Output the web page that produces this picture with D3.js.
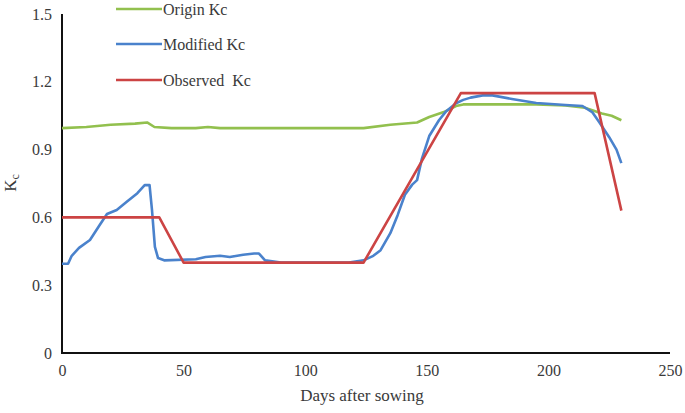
<!DOCTYPE html>
<html>
<head>
<meta charset="utf-8">
<script src="https://cdn.jsdelivr.net/npm/d3@7/dist/d3.min.js"></script>
<style>
  body { margin: 0; background: #fff; }
</style>
</head>
<body>
<svg id="chart" width="685" height="413"></svg>
<script>
// x ticks / y ticks
const xTicks = [0, 50, 100, 150, 200, 250];
const yTicks = [0, 0.3, 0.6, 0.9, 1.2, 1.5];

// Origin Kc
const originDays = [0, 10, 20, 30, 35, 38, 45, 55, 60, 65, 80, 100, 124, 135, 146, 151, 157, 162, 165, 195, 207, 215, 222, 226, 230];
const originKc   = [0.995, 1.0, 1.01, 1.015, 1.02, 1.0, 0.995, 0.995, 1.0, 0.995, 0.995, 0.995, 0.995, 1.01, 1.02, 1.044, 1.066, 1.093, 1.10, 1.10, 1.095, 1.085, 1.06, 1.05, 1.03];

// Modified Kc
const modifiedDays = [0, 2.5, 4, 7, 11.5, 15.5, 18.5, 22.5, 26.5, 31, 34, 36, 37, 38.2, 39.5, 42, 55, 59, 65, 69, 74.5, 79, 81, 83.5, 90, 118, 124, 128, 131, 135, 138, 141, 144, 146, 148, 151, 155, 158, 162, 165, 168, 173, 177, 185, 195, 207, 214, 218, 221, 225, 228, 230];
const modifiedKc   = [0.395, 0.395, 0.43, 0.465, 0.50, 0.566, 0.615, 0.633, 0.668, 0.707, 0.743, 0.743, 0.633, 0.47, 0.42, 0.41, 0.415, 0.425, 0.43, 0.425, 0.435, 0.44, 0.44, 0.41, 0.40, 0.40, 0.41, 0.43, 0.455, 0.53, 0.61, 0.70, 0.745, 0.765, 0.86, 0.96, 1.03, 1.07, 1.105, 1.12, 1.13, 1.14, 1.14, 1.124, 1.106, 1.097, 1.093, 1.066, 1.02, 0.955, 0.90, 0.84];

// Observed Kc
const observedDays = [0, 40, 50, 124, 164, 219, 230];
const observedKc   = [0.6, 0.6, 0.4, 0.4, 1.15, 1.15, 0.63];

const series = [
  {name: 'Origin Kc',    days: originDays,   values: originKc,   color: '#92c04e'},
  {name: 'Modified Kc',  days: modifiedDays, values: modifiedKc, color: '#4a82cc'},
  {name: 'Observed  Kc', days: observedDays, values: observedKc, color: '#cc4444'}
];

const FONT = '"Liberation Serif"';
const TXT = '#3a3a3a';

const svg = d3.select('#chart');
const x = d3.scaleLinear().domain([0, 250]).range([62, 670]);
const y = d3.scaleLinear().domain([0, 1.5]).range([353, 14]);

// axes lines (no ticks)
svg.append('line').attr('x1', x(0)).attr('x2', x(0)).attr('y1', y(1.5)).attr('y2', y(0))
  .attr('stroke', '#111').attr('stroke-width', 2);
svg.append('line').attr('x1', x(0) - 1).attr('x2', x(250)).attr('y1', y(0)).attr('y2', y(0))
  .attr('stroke', '#111').attr('stroke-width', 2);

const yAxis = d3.axisLeft(y).tickValues(yTicks).tickSize(0).tickPadding(10).tickFormat(d => d3.format('')(d));
const gy = svg.append('g').attr('transform', `translate(${x(0)},0)`).call(yAxis);
gy.select('.domain').remove();
gy.selectAll('text').style('font-family', FONT).style('font-size', '16px').attr('fill', TXT);

const xAxis = d3.axisBottom(x).tickValues(xTicks).tickSize(0).tickPadding(12);
const gx = svg.append('g').attr('transform', `translate(0,${y(0)})`).call(xAxis);
gx.select('.domain').remove();
gx.selectAll('text').style('font-family', FONT).style('font-size', '16px').attr('fill', TXT);

// axis titles
svg.append('text').attr('x', 362).attr('y', 401).attr('text-anchor', 'middle')
  .style('font-family', FONT).style('font-size', '17px').attr('fill', TXT).text('Days after sowing');
const yt = svg.append('text').attr('transform', 'translate(16,183) rotate(-90)')
  .attr('text-anchor', 'middle').style('font-family', FONT).style('font-size', '17px').attr('fill', TXT);
yt.append('tspan').text('K');
yt.append('tspan').attr('dy', 3).style('font-size', '12px').text('c');

// lines
const line = d3.line().x(d => x(d[0])).y(d => y(d[1]));
series.forEach(s => {
  svg.append('path')
    .datum(s.days.map((d, i) => [d, s.values[i]]))
    .attr('fill', 'none')
    .attr('stroke', s.color)
    .attr('stroke-width', 2.6)
    .attr('stroke-linejoin', 'round')
    .attr('d', line);
});

// legend
const legendY = [9, 44, 80];
series.forEach((s, i) => {
  svg.append('line').attr('x1', 116).attr('x2', 162).attr('y1', legendY[i]).attr('y2', legendY[i])
    .attr('stroke', s.color).attr('stroke-width', 2.6);
  svg.append('text').attr('x', 163).attr('y', legendY[i] + 5.5)
    .style('font-family', FONT).style('font-size', '16px').style('white-space', 'pre')
    .attr('fill', TXT).text(s.name);
});
</script>
</body>
</html>
